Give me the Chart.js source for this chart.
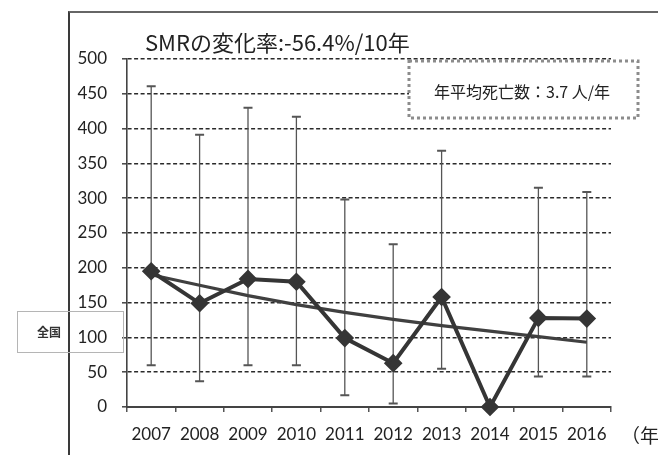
<!DOCTYPE html>
<html lang="ja">
<head>
<meta charset="utf-8">
<script src="https://cdn.jsdelivr.net/npm/chart.js@4/dist/chart.umd.min.js"></script>
<style>
  html, body { margin: 0; padding: 0; background: #fff; }
  body { width: 658px; height: 455px; overflow: hidden; position: relative; }
  #frame { position: absolute; left: 68px; top: 11px; width: 600px; height: 460px;
           border-left: 2px solid #3a3a3a; border-top: 2px solid #666; box-sizing: border-box; }
  #chart { position: absolute; left: 0; top: 0; }
  .txt { position: absolute; white-space: nowrap; color: #222;
         font-family: "Noto Sans CJK JP", "Noto Sans", sans-serif; }
  #title { left: 145px; top: 30px; font-size: 22px; line-height: 22px; }
  #note { left: 434px; top: 83px; font-size: 16px; line-height: 16px; }
  #nation { left: 17px; top: 311px; width: 107px; height: 42px; box-sizing: border-box;
            border: 1px solid #b5b5b5; }
  #nation span { position: absolute; left: 19px; top: 14px; font-size: 12px; line-height: 12px;
                 font-weight: bold; color: #333; }
  #unit { left: 621px; top: 425px; font-size: 19px; line-height: 19px; }
</style>
</head>
<body>
<div id="frame"></div>
<canvas id="chart" width="658" height="455"></canvas>
<div class="txt" id="title">SMRの変化率:-56.4%/10年</div>
<div class="txt" id="note">年平均死亡数：3.7 人/年</div>
<div class="txt" id="nation"><span>全国</span></div>
<div class="txt" id="unit">（年</div>
<script>
// Years on the category axis
const years = ['2007', '2008', '2009', '2010', '2011', '2012', '2013', '2014', '2015', '2016'];
// Standardised mortality ratio per year
const smr = [195, 149, 184, 180, 99, 63, 158, 0, 128, 127];
// 95% confidence interval bounds (no interval for a zero-death year)
const ciUpper = [461, 391, 430, 417, 298, 234, 368, null, 315, 309];
const ciLower = [60, 37, 60, 60, 17, 5, 55, null, 44, 44];
// Fitted trend line values
const trend = [190, 175, 160, 147, 136, 126, 117, 109, 101, 93];
// Y axis ticks
const yTicks = [0, 50, 100, 150, 200, 250, 300, 350, 400, 450, 500];

const axisFont = { family: 'Lato, "Noto Sans", sans-serif', size: 17 };

// Vertical confidence-interval whiskers with caps
const errorBars = {
  id: 'errorBars',
  beforeDatasetsDraw(chart) {
    const { ctx, scales: { x, y } } = chart;
    ctx.save();
    ctx.strokeStyle = '#555';
    years.forEach((_, i) => {
      if (ciUpper[i] == null || ciLower[i] == null) return;
      const px = x.getPixelForValue(i);
      const top = y.getPixelForValue(ciUpper[i]);
      const bot = y.getPixelForValue(ciLower[i]);
      ctx.lineWidth = 1.3;
      ctx.beginPath();
      ctx.moveTo(px, top);
      ctx.lineTo(px, bot);
      ctx.stroke();
      ctx.lineWidth = 2;
      ctx.beginPath();
      ctx.moveTo(px - 4.5, top); ctx.lineTo(px + 4.5, top);
      ctx.moveTo(px - 4.5, bot); ctx.lineTo(px + 4.5, bot);
      ctx.stroke();
    });
    ctx.restore();
  }
};

// White panel with a dotted grey border behind the annual-deaths note
const notePanel = {
  id: 'notePanel',
  beforeDatasetsDraw(chart) {
    const { ctx } = chart;
    ctx.save();
    ctx.fillStyle = '#fff';
    ctx.fillRect(409, 61, 229, 57);
    ctx.strokeStyle = '#8c8c8c';
    ctx.lineWidth = 3;
    ctx.setLineDash([3, 3]);
    ctx.strokeRect(409, 61, 229, 57);
    ctx.restore();
  }
};

new Chart(document.getElementById('chart'), {
  type: 'line',
  data: {
    labels: years,
    datasets: [
      {
        label: 'SMR',
        data: smr,
        borderColor: '#353535',
        borderWidth: 4,
        pointStyle: 'rectRot',
        pointRadius: 6.5,
        pointBackgroundColor: '#353535',
        pointBorderColor: '#353535',
        tension: 0,
        clip: false,
        order: 1
      },
      {
        label: 'trend',
        data: trend,
        borderColor: '#404040',
        borderWidth: 3.2,
        pointRadius: 0,
        tension: 0,
        clip: false,
        order: 2
      }
    ]
  },
  options: {
    responsive: false,
    animation: false,
    layout: { padding: { left: 69, right: 47, top: 59, bottom: 10 } },
    plugins: {
      legend: { display: false },
      tooltip: { enabled: false }
    },
    scales: {
      x: {
        type: 'category',
        offset: true,
        afterFit: (s) => { s.height = 38; },
        grid: { offset: true, drawOnChartArea: false, drawTicks: true, tickLength: 5, color: '#555', lineWidth: 1.5 },
        border: { display: true, color: '#444', width: 2 },
        ticks: { font: axisFont, color: '#222', padding: 12, maxRotation: 0, autoSkip: false }
      },
      y: {
        min: 0,
        max: 500,
        afterFit: (s) => { s.width = 58; },
        afterBuildTicks: (s) => { s.ticks = yTicks.map(v => ({ value: v })); },
        grid: { color: '#2a2a2a', lineWidth: 1.6, tickLength: 5,
                tickBorderDash: [], tickColor: '#444', tickWidth: 1.5 },
        border: { display: true, color: '#444', width: 1.6, dash: [4, 2.5] },
        ticks: { font: axisFont, color: '#222', padding: 15 }
      }
    }
  },
  plugins: [notePanel, errorBars]
});
</script>
</body>
</html>
